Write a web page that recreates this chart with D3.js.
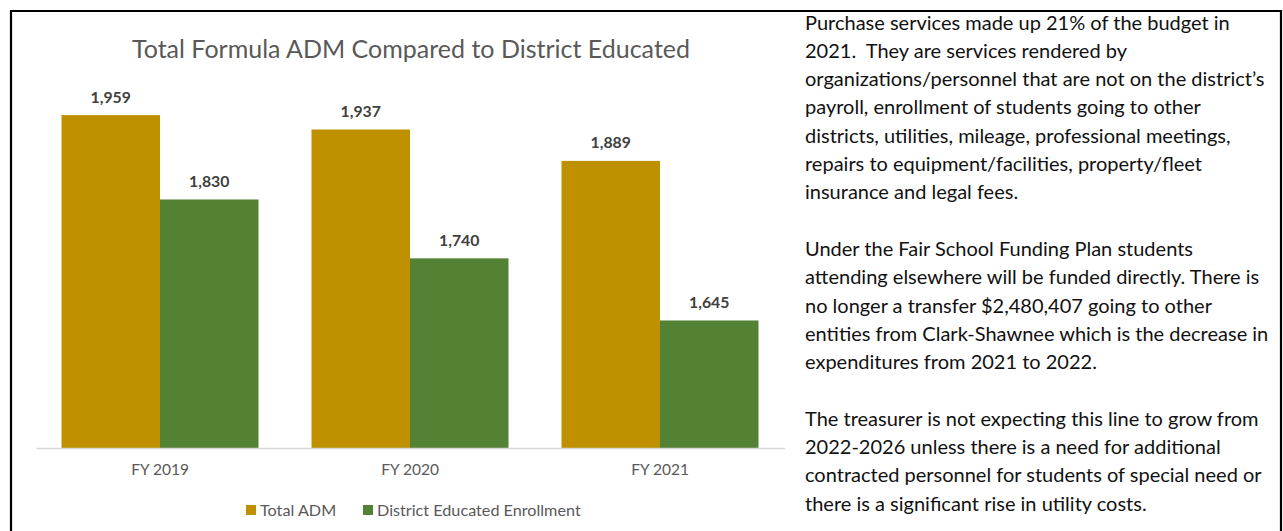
<!DOCTYPE html>
<html><head><meta charset="utf-8">
<script src="https://cdn.jsdelivr.net/npm/d3@7"></script>
<style>body{margin:0;background:#fff;} svg{display:block;}</style>
</head><body>
<svg id="c" width="1283" height="531"></svg>
<script>
const categories = ["FY 2019", "FY 2020", "FY 2021"];
const seriesNames = ["Total ADM", "District Educated Enrollment"];
const totalADM = [1959, 1937, 1889];
const districtEducated = [1830, 1740, 1645];
const colors = ["#BF9000", "#548235"];
const title = "Total Formula ADM Compared to District Educated";
const paragraph = [
  "Purchase services made up 21% of the budget in",
  "2021.  They are services rendered by",
  "organizations/personnel that are not on the district\u2019s",
  "payroll, enrollment of students going to other",
  "districts, utilities, mileage, professional meetings,",
  "repairs to equipment/facilities, property/fleet",
  "insurance and legal fees.",
  "",
  "Under the Fair School Funding Plan students",
  "attending elsewhere will be funded directly. There is",
  "no longer a transfer $2,480,407 going to other",
  "entities from Clark-Shawnee which is the decrease in",
  "expenditures from 2021 to 2022.",
  "",
  "The treasurer is not expecting this line to grow from",
  "2022-2026 unless there is a need for additional",
  "contracted personnel for students of special need or",
  "there is a significant rise in utility costs."
];

const svg = d3.select("#c");
const font = "Lato, 'Open Sans', sans-serif";

// border
svg.append("path").attr("d", "M11,540 L11,11 L1281,11 L1281,540")
  .attr("fill", "none").attr("stroke", "#000").attr("stroke-width", 2.2);

const x0 = d3.scaleBand().domain(categories).range([35, 785]).paddingInner(0.212).paddingOuter(0.106);
const x1 = d3.scaleBand().domain(seriesNames).range([0, x0.bandwidth()]);
const y = d3.scaleLinear().domain([1450, 2000]).range([448, 88.3]);

const data = categories.map((c, i) => ({cat: c, vals: [totalADM[i], districtEducated[i]]}));

const g = svg.append("g");
const groups = g.selectAll("g.grp").data(data).join("g")
  .attr("transform", d => `translate(${x0(d.cat)},0)`);
groups.selectAll("rect").data(d => d.vals.map((v, j) => ({v, s: seriesNames[j], j})))
  .join("rect")
  .attr("x", d => x1(d.s)).attr("width", x1.bandwidth())
  .attr("y", d => y(d.v)).attr("height", d => y(1450) - y(d.v))
  .attr("fill", d => colors[d.j]);
groups.selectAll("text").data(d => d.vals.map((v, j) => ({v, s: seriesNames[j], j})))
  .join("text")
  .attr("x", d => x1(d.s) + x1.bandwidth() / 2)
  .attr("y", d => y(d.v) - 12.5)
  .attr("text-anchor", "middle")
  .attr("font-family", font).attr("font-weight", "bold").attr("font-size", 15.8)
  .attr("fill", "#404040")
  .text(d => d3.format(",")(d.v));

// x axis
const xAxis = d3.axisBottom(x0).tickSize(0).tickPadding(16);
const ax = svg.append("g").attr("transform", "translate(0,448)").call(xAxis);
ax.select(".domain").attr("stroke", "#d9d9d9").attr("stroke-width", 1.3).attr("d", "M36.5,0.5H785");
ax.selectAll("text").attr("font-family", font).attr("font-size", 15.5).attr("fill", "#595959");

// title
svg.append("text").attr("x", 411).attr("y", 58).attr("text-anchor", "middle")
  .attr("font-family", font).attr("font-size", 25).attr("fill", "#595959").text(title);

// legend
const legX = [246, 363];
const leg = svg.append("g");
seriesNames.forEach((s, i) => {
  leg.append("rect").attr("x", legX[i]).attr("y", 505).attr("width", 10).attr("height", 10).attr("fill", colors[i]);
  leg.append("text").attr("x", legX[i] + 14).attr("y", 515.5).attr("font-family", font).attr("font-size", 16.2)
    .attr("fill", "#595959").text(s);
});

// paragraph
const pg = svg.append("g");
paragraph.forEach((line, i) => {
  if (!line) return;
  pg.append("text").attr("x", 805).attr("y", 29.5 + i * 28.3)
    .attr("font-family", font).attr("font-size", 20).attr("fill", "#111")
    .attr("xml:space", "preserve").style("white-space", "pre").text(line);
});
</script>
</body></html>
